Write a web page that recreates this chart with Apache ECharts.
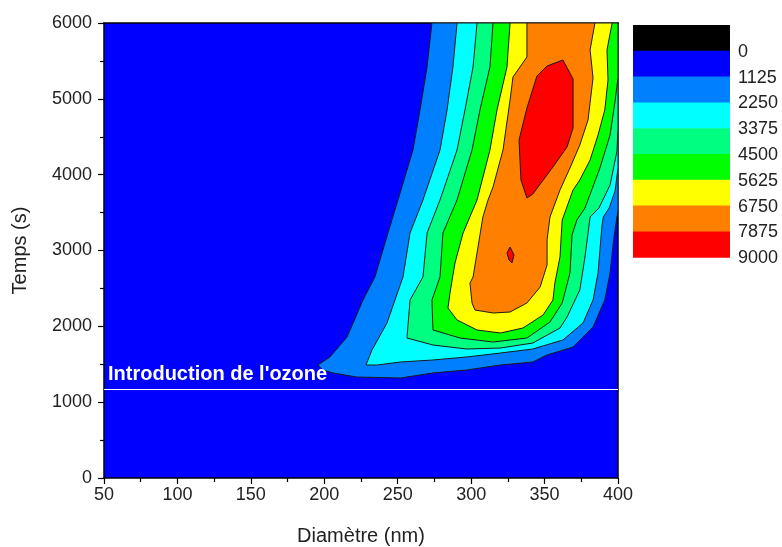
<!DOCTYPE html>
<html>
<head>
<meta charset="utf-8">
<script src="https://cdn.jsdelivr.net/npm/echarts@6/dist/echarts.min.js"></script>
<style>
  html, body { margin: 0; padding: 0; background: #ffffff; }
  #chart { width: 782px; height: 547px; }
</style>
</head>
<body>
<div id="chart"></div>
<script>
// ---- Data ----
const diameterRange = [50, 400];        // nm
const timeRange = [0, 6000];            // s
const diameterTicks = [50, 100, 150, 200, 250, 300, 350, 400];
const timeTicks = [0, 1000, 2000, 3000, 4000, 5000, 6000];
const levels = [0, 1125, 2250, 3375, 4500, 5625, 6750, 7875, 9000];
const levelColors = ['#000000', '#0000FF', '#0080FF', '#00FFFF', '#00FF80', '#00FF00', '#FFFF00', '#FF8000', '#FF0000'];
const ozoneTime = 1170;                 // s
const ozoneLabel = "Introduction de l'ozone";

// Contour regions (diameter nm, time s) : area where value >= level
const contour1125 = [[273.3,6000],[400,6000],[400,3534],[397,3139],[394.6,2703],[391,2347],[383,1991],[369.4,1727],[351.7,1622],[342,1530],[320,1490],[297,1424],[274,1385],[252,1319],[222,1332],[206,1385],[199,1424],[195.7,1490],[203.9,1596],[215.5,1859],[226.4,2347],[234.5,2651],[243.4,3231],[250.2,3666],[260.4,4325],[265.2,4853],[270,5420]];
const contour2250 = [[290.4,6000],[400,6000],[400,4088],[398,3785],[394,3560],[390,3442],[389,3310],[386.4,2703],[383,2347],[376.2,2044],[362.5,1820],[342,1701],[320,1648],[297,1596],[274,1556],[252,1530],[236,1490],[228.4,1490],[232.5,1688],[242.7,2044],[253.6,2651],[258.4,3231],[267.2,3666],[278.8,4325],[283.6,4853],[287.6,5420]];
const contour3375 = [[304,6000],[400,6000],[400,4615],[399.3,4312],[394.6,3864],[387,3560],[381,3442],[377.5,2914],[374,2479],[365.3,2123],[360.5,1978],[342,1780],[320,1714],[297,1701],[274,1754],[256.3,1846],[258.4,2347],[267.2,2651],[270,3231],[278.8,3666],[290.4,4325],[295.8,4853],[301.3,5420]];
const contour4500 = [[314.9,6000],[400,6000],[400,5275],[398,4971],[394.6,4523],[387.7,4088],[377.5,3560],[372,3402],[368.7,3204],[367.3,2703],[362,2308],[353.7,2057],[338,1846],[315,1793],[292.4,1846],[274,1952],[273.3,2347],[278.8,2651],[280.8,3231],[290.4,3666],[300.6,4325],[306,4853],[312.8,5420]];
const contour5625 = [[326.5,6000],[396,6000],[392.5,5644],[393.2,5248],[391,4853],[386.4,4523],[381,4193],[374,3930],[369.4,3798],[362,3402],[360.5,2914],[357,2571],[355.7,2347],[349,2150],[335.3,1978],[320,1912],[304,1952],[290.4,2084],[284.2,2242],[285.6,2440],[289,2835],[294.5,3231],[304,3666],[312.8,4325],[317.6,4853],[324.4,5420]];
const contour6750 = [[338,6000],[384.3,6000],[381,5644],[383,5275],[379.6,4721],[374,4391],[367.3,4088],[360.5,3798],[353.7,3442],[351.7,3139],[351.7,2809],[347,2519],[338,2308],[326.5,2189],[315,2176],[302.6,2215],[300.6,2308],[299.2,2571],[301.3,2651],[304,2967],[308,3442],[311.5,3666],[314.9,3837],[321.7,4325],[326.5,4985],[328.5,5288],[338,5552]];
const contour7875a = [[338,3692],[333.9,3930],[332.6,4457],[338,4879],[344.8,5301],[351.7,5433],[362.5,5512],[369.4,5262],[369.4,4615],[365.3,4365],[355.7,4101],[342,3745]];
const contour7875b = [[326.5,3046],[329.2,2941],[327.8,2835],[325.8,2875],[324.4,2967]];

const regions = [
  { level: 1125, points: contour1125 },
  { level: 2250, points: contour2250 },
  { level: 3375, points: contour3375 },
  { level: 4500, points: contour4500 },
  { level: 5625, points: contour5625 },
  { level: 6750, points: contour6750 },
  { level: 7875, points: contour7875a },
  { level: 7875, points: contour7875b }
];

function colorFor(level) {
  // band [levels[i], levels[i+1]) -> levelColors[i+1]
  const i = levels.indexOf(level);
  return levelColors[i + 1];
}

const chart = echarts.init(document.getElementById('chart'), null, { renderer: 'canvas' });

const FONT = 'Liberation Sans, Arial, sans-serif';
const grid = { left: 104, right: 164, top: 23, bottom: 69 };

// colour bar (legend) built from levels / colours
const barX = 633, barW = 97, barTop = 25, bandH = 25.8;
const colorbar = [];
levelColors.forEach((c, i) => {
  colorbar.push({
    type: 'rect', left: barX, top: barTop + i * bandH,
    shape: { width: barW, height: bandH + 0.5 }, style: { fill: c }, silent: true
  });
});
levels.forEach((v, i) => {
  colorbar.push({
    type: 'text', left: 738, top: barTop + (i + 1) * bandH - 8,
    style: { text: String(v), fill: '#222', font: '18px ' + FONT }, silent: true
  });
});

const option = {
  animation: false,
  backgroundColor: '#ffffff',
  grid: Object.assign({ show: true, backgroundColor: levelColors[1], borderColor: '#000', borderWidth: 0,
    containLabel: false, outerBoundsMode: 'none' }, grid),
  xAxis: [{
    type: 'value', min: diameterRange[0], max: diameterRange[1], interval: 50,
    name: 'Diamètre (nm)', nameLocation: 'middle', nameGap: 48,
    nameTextStyle: { fontSize: 20, color: '#222', fontFamily: FONT },
    axisLine: { show: true, onZero: false, lineStyle: { color: '#000', width: 1.5 } },
    axisTick: { show: true, inside: false, length: 6, lineStyle: { color: '#000', width: 1.2 } },
    minorTick: { show: true, splitNumber: 2, length: 4, lineStyle: { color: '#000', width: 1.2 } },
    axisLabel: { fontSize: 18, color: '#222', fontFamily: FONT, margin: 8,
      formatter: v => diameterTicks.includes(v) ? String(v) : '' },
    splitLine: { show: false }
  }, {
    type: 'value', position: 'top', min: diameterRange[0], max: diameterRange[1],
    axisLine: { show: true, onZero: false, lineStyle: { color: '#000', width: 1.5 } },
    axisTick: { show: false }, axisLabel: { show: false }, splitLine: { show: false }
  }],
  yAxis: [{
    type: 'value', min: timeRange[0], max: timeRange[1], interval: 1000,
    name: 'Temps (s)', nameLocation: 'middle', nameGap: 74,
    nameTextStyle: { fontSize: 20, color: '#222', fontFamily: FONT },
    axisLine: { show: true, onZero: false, lineStyle: { color: '#000', width: 1.5 } },
    axisTick: { show: true, inside: false, length: 6, lineStyle: { color: '#000', width: 1.2 } },
    minorTick: { show: true, splitNumber: 2, length: 4, lineStyle: { color: '#000', width: 1.2 } },
    axisLabel: { fontSize: 18, color: '#222', fontFamily: FONT, margin: 12,
      formatter: v => timeTicks.includes(v) ? String(v) : '' },
    splitLine: { show: false }
  }, {
    type: 'value', position: 'right', min: timeRange[0], max: timeRange[1],
    axisLine: { show: true, onZero: false, lineStyle: { color: '#000', width: 1.5 } },
    axisTick: { show: false }, axisLabel: { show: false }, splitLine: { show: false }
  }],
  series: [{
    type: 'custom',
    coordinateSystem: 'cartesian2d',
    xAxisIndex: 0, yAxisIndex: 0,
    clip: true, silent: true,
    data: regions.map((r, i) => [r.points[0][0], r.points[0][1], i]),
    encode: { x: 0, y: 1 },
    renderItem: function (params, api) {
      const r = regions[params.dataIndex];
      return {
        type: 'polygon',
        z2: params.dataIndex,
        shape: { points: r.points.map(p => api.coord(p)) },
        style: { fill: colorFor(r.level), stroke: '#1a1a1a', lineWidth: 1 }
      };
    }
  }, {
    type: 'line', data: [], xAxisIndex: 0, yAxisIndex: 0, silent: true,
    markLine: {
      silent: true, symbol: 'none', animation: false,
      lineStyle: { color: '#ffffff', width: 1, type: 'solid' },
      label: {
        show: true, position: 'insideStartTop', formatter: ozoneLabel,
        color: '#ffffff', fontWeight: 'bold', fontSize: 20, fontFamily: FONT, distance: [4, 5]
      },
      data: [{ yAxis: ozoneTime }]
    }
  }],
  graphic: colorbar
};
chart.setOption(option);
</script>
</body>
</html>
